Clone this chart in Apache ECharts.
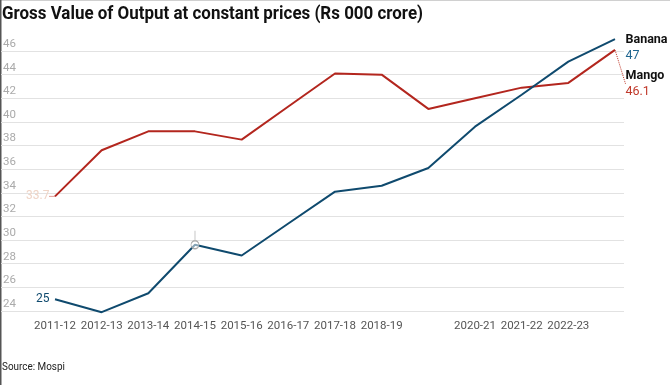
<!DOCTYPE html>
<html>
<head>
<meta charset="utf-8">
<script src="https://cdn.jsdelivr.net/npm/echarts@6/dist/echarts.min.js"></script>
<style>html,body{margin:0;padding:0;background:#fff}#c{width:670px;height:385px}</style>
</head>
<body>
<div id="c"></div>
<script>
const titleText = 'Gross Value of Output at constant prices (Rs 000 crore)';
const sourceText = 'Source: Mospi';
const categories = ['2011-12','2012-13','2013-14','2014-15','2015-16','2016-17','2017-18','2018-19','2019-20','2020-21','2021-22','2022-23','2023-24'];
const shownTickLabels = ['2011-12','2012-13','2013-14','2014-15','2015-16','2016-17','2017-18','2018-19','2020-21','2021-22','2022-23'];
const banana = [25, 23.9, 25.5, 29.6, 28.7, 31.4, 34.1, 34.6, 36.1, 39.6, 42.3, 45.1, 47];
const mango = [33.7, 37.6, 39.2, 39.2, 38.5, 41.3, 44.1, 44.0, 41.1, 42.0, 42.9, 43.3, 46.1];
const yMin = 24, yMax = 46, yStep = 2;
const highlightIndex = 3;

const font = 'Roboto';
const blue = '#0f4a6e', red = '#b3261e';
const last = categories.length - 1;

// condense the title to the reference's narrow typeface width
const titleFontSize = 19;
const titleTargetWidth = 421;
const mctx = document.createElement('canvas').getContext('2d');
mctx.font = 'bold ' + titleFontSize + 'px ' + font;
const titleScale = titleTargetWidth / mctx.measureText(titleText).width;

function buildData(arr, firstColor, isBanana) {
  return arr.map((v, i) => {
    const item = { value: v };
    if (i === 0) {
      item.label = { show: true, position: 'left', distance: 5, color: firstColor, fontSize: 12, fontFamily: font, formatter: '{c}' };
    } else if (i === last) {
      item.label = {
        show: true, position: 'right', distance: 10,
        formatter: p => '{n|' + p.seriesName + '}\n{v|' + p.value + '}',
        rich: {
          n: { fontFamily: font, fontWeight: 'bold', fontSize: 12.5, color: '#111', lineHeight: 16 },
          v: { fontFamily: font, fontSize: 12.5, color: isBanana ? '#1f6690' : '#c0392b', lineHeight: 16 }
        }
      };
    }
    if (isBanana && i === highlightIndex) {
      item.symbol = 'path://M0,14 A4,4 0 1 1 8,14 A4,4 0 1 1 0,14 Z M4,0 L4,10';
      item.symbolSize = [8, 18];
      item.symbolOffset = [0, -5];
      item.itemStyle = { color: 'rgba(255,255,255,0.5)', borderColor: '#aaa', borderWidth: 1 };
    }
    return item;
  });
}

const chart = echarts.init(document.getElementById('c'), null, { renderer: 'canvas' });
chart.setOption({
  animation: false,
  backgroundColor: '#fff',
  graphic: [
    { type: 'rect', left: 0, top: 0, shape: { width: 670, height: 1 }, style: { fill: '#d0d0d0' }, silent: true },
    { type: 'rect', left: 0, top: 0, shape: { width: 1.5, height: 385 }, style: { fill: '#555' }, silent: true },
    { type: 'text', x: 2, y: 5, scaleX: titleScale,
      style: { text: titleText, font: 'bold ' + titleFontSize + 'px ' + font, fill: '#111' } },
    { type: 'text', x: 2, y: 362, scaleX: 0.9, style: { text: sourceText, font: '11px ' + font, fill: '#222' } }
  ],
  grid: [
    { left: 55, right: 55, top: 51, bottom: 74 },
    { left: 0, right: 46, top: 51, bottom: 74 }
  ],
  xAxis: [
    {
      type: 'category', gridIndex: 0, data: categories, boundaryGap: false,
      axisLine: { show: false }, axisTick: { show: false },
      axisLabel: {
        interval: 0, margin: 9, color: '#555', fontSize: 11.5, fontFamily: font,
        formatter: v => shownTickLabels.includes(v) ? v : ''
      },
      splitLine: { show: false }
    },
    { type: 'category', gridIndex: 1, data: categories, show: false }
  ],
  yAxis: [
    { type: 'value', gridIndex: 0, min: yMin, max: yMax, interval: yStep, show: false },
    {
      type: 'value', gridIndex: 1, min: yMin, max: yMax, interval: yStep,
      axisLine: { show: false }, axisTick: { show: false },
      axisLabel: {
        inside: true, margin: 2, verticalAlign: 'bottom', padding: [0, 0, 1, 0],
        color: '#aaa', fontSize: 11.5, fontFamily: font
      },
      splitLine: { lineStyle: { color: '#e2e2e2', width: 1.2 } }
    }
  ],
  series: [
    {
      name: 'Mango', type: 'line', xAxisIndex: 0, yAxisIndex: 0, clip: false,
      data: buildData(mango, '#efd4c6', false),
      symbol: 'circle', symbolSize: 1, showSymbol: true,
      lineStyle: { color: red, width: 2 }, itemStyle: { color: 'rgba(0,0,0,0)' },
      labelLine: { show: true, lineStyle: { type: 'dotted', color: '#c0392b', width: 1 } },
      labelLayout: p => p.dataIndex === last ? { dy: 34 } : {}
    },
    {
      name: 'Banana', type: 'line', xAxisIndex: 0, yAxisIndex: 0, clip: false,
      data: buildData(banana, blue, true),
      symbol: 'circle', symbolSize: 1, showSymbol: true,
      lineStyle: { color: blue, width: 2 }, itemStyle: { color: 'rgba(0,0,0,0)' },
      labelLayout: p => p.dataIndex === last ? { dy: 9 } : {}
    }
  ]
});
</script>
</body>
</html>
